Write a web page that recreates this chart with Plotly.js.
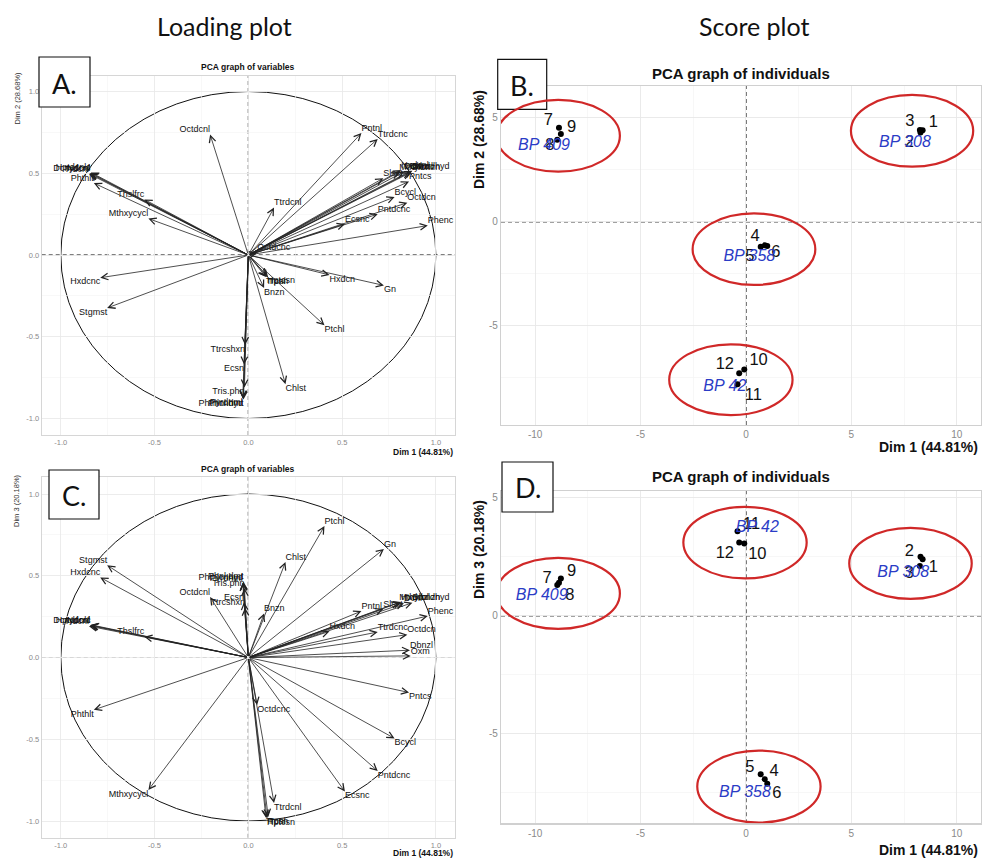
<!DOCTYPE html>
<html><head><meta charset="utf-8">
<script src="https://cdn.plot.ly/plotly-3.0.1.min.js"></script>
<style>html,body{margin:0;padding:0;background:#fff}#chart{width:983px;height:860px}</style>
</head><body><div id="chart"></div>
<script>
// ---------- Loading plot: variable coordinates ----------
const varNames = ['Octdcnl','Pntnl','Ttrdcnc','Slsst','Pntcs','Bcycl','Octdcn','Pntdcnc','Ecsnc','Phenc',
  'Ttrdcnl','Octdcnc','Phthlt','Thslfrc','Mthxycycl','Hxdcnc','Stgmst','Hxdcn','Gn','Ptchl',
  'Chlst','Bnzn','Ttrcshxn','Ecsn','Tris.phn','Dbnzl','Oxm',
  'Bnzldhyd','Hxdcnl','Dcnl','Mthylbnzn',
  'Ndcnl','Hptdcnlc','Trdcnl','Dcnydcnl',
  'Trcsn','Hptcsn','Tpnl',
  'Phthlcnhyd','Phnl.dmt','Pyrdnml'];
const varDim1 = [-0.204,0.603,0.690,0.720,0.857,0.780,0.848,0.690,0.515,0.957,
  0.137,0.047,-0.824,-0.555,-0.533,-0.790,-0.753,0.433,0.723,0.406,
  0.198,0.084,-0.018,-0.023,-0.021,0.862,0.866,
  0.875,0.815,0.830,0.805,
  -0.845,-0.840,-0.850,-0.843,
  0.094,0.100,0.106,
  -0.028,-0.026,-0.030];
const varDim2 = [0.737,0.746,0.710,0.470,0.450,0.355,0.320,0.250,0.190,0.180,
  0.290,0.014,0.440,0.340,0.223,-0.139,-0.324,-0.122,-0.186,-0.430,
  -0.790,-0.202,-0.550,-0.670,-0.810,0.512,0.505,
  0.515,0.520,0.510,0.508,
  0.500,0.505,0.497,0.502,
  -0.135,-0.130,-0.138,
  -0.880,-0.884,-0.877];
const varDim3 = [0.370,0.284,0.156,0.297,-0.214,-0.495,0.140,-0.694,-0.820,0.254,
  -0.890,-0.290,-0.320,0.127,-0.810,0.490,0.565,0.160,0.664,0.804,
  0.584,0.270,0.305,0.340,0.425,0.045,0.010,
  0.335,0.340,0.332,0.338,
  0.196,0.200,0.192,0.198,
  -0.980,-0.985,-0.975,
  0.460,0.464,0.457];

// ---------- Score plot: individuals ----------
const indNames = ['1','2','3','4','5','6','7','8','9','10','11','12'];
const indDim1 = [8.38,8.28,8.25,0.89,0.70,1.01,-8.87,-8.95,-8.78,-0.08,-0.40,-0.32];
const indDim2 = [4.41,4.30,4.42,-1.14,-1.21,-1.17,4.53,3.95,4.23,-7.12,-7.83,-7.31];
const indDim3 = [2.39,2.50,2.10,-6.92,-6.71,-7.12,1.40,1.30,1.58,3.06,3.58,3.10];
const indLabBx = [8.89,7.75,7.78,0.43,0.19,1.42,-9.38,-9.30,-8.27,0.60,0.35,-1.00];
const indLabBy = [4.74,3.81,4.82,-0.72,-1.69,-1.52,4.86,3.65,4.50,-6.72,-8.39,-6.88];
const indLabDx = [8.89,7.75,7.75,1.33,0.19,1.46,-9.43,-8.35,-8.27,0.54,0.27,-1.00];
const indLabDy = [2.03,2.71,1.79,-6.60,-6.46,-7.56,1.55,0.85,1.86,2.57,3.84,2.61];
const groupNames = ['BP 308','BP 358','BP 409','BP 42'];
const groupLabBx = [7.54,0.16,-9.58,-1.00];
const groupLabBy = [3.81,-1.72,3.66,-7.98];
const groupLabDx = [7.46,-0.05,-9.69,0.54];
const groupLabDy = [1.79,-7.52,0.85,3.72];
// hand-drawn red ellipses (bounds in axis units)
const ellBx0 = [4.98,-2.53,-11.83,-3.64], ellBx1 = [10.78,3.29,-5.98,2.21];
const ellBy0 = [2.65,-3.05,2.41,-9.32], ellBy1 = [6.11,0.40,5.87,-5.91];
const ellDx0 = [4.90,-2.31,-11.83,-2.97], ellDx1 = [10.71,3.54,-5.98,2.88];
const ellDy0 = [0.71,-8.76,-0.56,1.58], ellDy1 = [3.72,-5.71,2.45,4.61];
// tick labels
const loadTicks = [-1,-0.5,0,0.5,1], loadTickText = ['-1.0','-0.5','0.0','0.5','1.0'];
const scoreXTicks = [-10,-5,0,5,10], scoreXTickText = ['-10','-5','0','5','10'];
const scoreYTicks = [-5,0,5], scoreYTickText = ['-5','0','5'];

const W = 983, H = 860;
const px = x => x / W, py = y => 1 - y / H;
const FONT = 'Liberation Sans, Arial, sans-serif';

function tpos(x, y) { return (y >= 0 ? 'top ' : 'bottom ') + (x >= 0 ? 'right' : 'left'); }

const traces = [];
traces.push({type:'scatter', mode:'text', x:varDim1, y:varDim2, text:varNames,
  textposition:varDim1.map((v,i)=>tpos(v,varDim2[i])), textfont:{size:9,color:'#111',family:FONT},
  xaxis:'x', yaxis:'y', hoverinfo:'skip', cliponaxis:false});
traces.push({type:'scatter', mode:'text', x:varDim1, y:varDim3, text:varNames,
  textposition:varDim1.map((v,i)=>tpos(v,varDim3[i])), textfont:{size:9,color:'#111',family:FONT},
  xaxis:'x3', yaxis:'y3', hoverinfo:'skip', cliponaxis:false});

function scoreTraces(dimY, labX, labY, gX, gY, xa, ya) {
  traces.push({type:'scatter', mode:'markers', x:indDim1, y:dimY, marker:{size:6,color:'#000'},
    xaxis:xa, yaxis:ya, hoverinfo:'skip'});
  traces.push({type:'scatter', mode:'text', x:labX, y:labY, text:indNames, textposition:'middle center',
    textfont:{size:16.5,color:'#111',family:FONT}, xaxis:xa, yaxis:ya, hoverinfo:'skip'});
  traces.push({type:'scatter', mode:'text', x:gX, y:gY, text:groupNames, textposition:'middle center',
    textfont:{size:16,color:'#2b3cc6',family:FONT,style:'italic'}, xaxis:xa, yaxis:ya, hoverinfo:'skip'});
}
scoreTraces(indDim2, indLabBx, indLabBy, groupLabBx, groupLabBy, 'x2', 'y2');
scoreTraces(indDim3, indLabDx, indLabDy, groupLabDx, groupLabDy, 'x4', 'y4');

const loadAx = {
  tickmode:'array', tickvals:loadTicks, ticktext:loadTickText,
  showgrid:true, gridcolor:'#e8e8e8', gridwidth:0.8,
  minor:{dtick:0.25, tick0:0, showgrid:true, gridcolor:'#f3f3f3', gridwidth:0.6},
  zeroline:false, showline:true, mirror:true, linecolor:'#d6d6d6', linewidth:1,
  ticks:'', tickfont:{size:7.5,color:'#8a8a8a',family:FONT}, fixedrange:true
};
const scoreAx = {
  tickmode:'array', tickvals:scoreXTicks, ticktext:scoreXTickText,
  showgrid:true, gridcolor:'#e8e8e8', gridwidth:0.9,
  minor:{dtick:2.5, tick0:0, showgrid:true, gridcolor:'#f3f3f3', gridwidth:0.7},
  zeroline:false, showline:true, mirror:true, linecolor:'#d0d0d0', linewidth:1.2,
  ticks:'', tickfont:{size:10,color:'#8a8a8a',family:FONT}, fixedrange:true
};

const layout = {
  width:W, height:H, margin:{l:0,r:0,t:0,b:0}, paper_bgcolor:'#fff', plot_bgcolor:'#fff',
  showlegend:false, font:{family:FONT},
  xaxis:Object.assign({}, loadAx, {domain:[px(41.7),px(455)], range:[-1.102,1.102], anchor:'y'}),
  yaxis:Object.assign({}, loadAx, {domain:[py(435),py(76)], range:[-1.101,1.095], anchor:'x'}),
  xaxis3:Object.assign({}, loadAx, {domain:[px(41.7),px(455)], range:[-1.102,1.102], anchor:'y3'}),
  yaxis3:Object.assign({}, loadAx, {domain:[py(837.7),py(476.7)], range:[-1.102,1.106], anchor:'x3'}),
  xaxis2:Object.assign({}, scoreAx, {domain:[px(501),px(981)], range:[-11.62,11.15], anchor:'y2'}),
  yaxis2:Object.assign({}, scoreAx, {domain:[py(425),py(86)], range:[-9.80,6.54], anchor:'x2', tickvals:scoreYTicks, ticktext:scoreYTickText}),
  xaxis4:Object.assign({}, scoreAx, {domain:[px(501),px(981)], range:[-11.62,11.15], anchor:'y4'}),
  yaxis4:Object.assign({}, scoreAx, {domain:[py(823.3),py(491)], range:[-8.79,5.28], anchor:'x4', tickvals:scoreYTicks, ticktext:scoreYTickText}),
  shapes:[], annotations:[]
};

[['x','y'],['x3','y3']].forEach(([xa,ya]) => {
  layout.shapes.push({type:'line', xref:xa, yref:ya+' domain', x0:0, x1:0, y0:0, y1:1, layer:'below',
    line:{color:'#000', width:1.1, dash:'4px,3px'}});
  layout.shapes.push({type:'line', xref:xa+' domain', yref:ya, x0:0, x1:1, y0:0, y1:0, layer:'below',
    line:{color:'#000', width:1.1, dash:'4px,3px'}});
  layout.shapes.push({type:'circle', xref:xa, yref:ya, x0:-1, x1:1, y0:-1, y1:1, layer:'below',
    line:{color:'#111', width:1}});
});
[['x2','y2'],['x4','y4']].forEach(([xa,ya]) => {
  layout.shapes.push({type:'line', xref:xa, yref:ya+' domain', x0:0, x1:0, y0:0, y1:1, layer:'below',
    line:{color:'#444', width:1.5, dash:'4px,3px'}});
  layout.shapes.push({type:'line', xref:xa+' domain', yref:ya, x0:0, x1:1, y0:0, y1:0, layer:'below',
    line:{color:'#444', width:1.5, dash:'4px,3px'}});
});

function arrows(dimY, xa, ya) {
  varDim1.forEach((v,i) => {
    layout.annotations.push({xref:xa, yref:ya, axref:xa, ayref:ya, x:v, y:dimY[i], ax:0, ay:0,
      text:'', showarrow:true, arrowhead:5, arrowsize:1.6, arrowwidth:0.8, arrowcolor:'#222',
      standoff:0, startstandoff:0});
  });
}
arrows(varDim2, 'x', 'y');
arrows(varDim3, 'x3', 'y3');

function box(x0, y0, x1, y1, letter) {
  layout.shapes.push({type:'rect', xref:'paper', yref:'paper', x0:px(x0), x1:px(x1), y0:py(y1), y1:py(y0),
    fillcolor:'#fff', line:{color:'#111', width:1.2}, layer:'above'});
  layout.annotations.push({xref:'paper', yref:'paper', x:px((x0+x1)/2), y:py((y0+y1)/2+1), text:letter,
    showarrow:false, font:{family:'Lato, Open Sans, sans-serif', size:27, color:'#111'},
    xanchor:'center', yanchor:'middle'});
}
box(39, 57, 90, 107, 'A.');
box(49, 470, 99, 519, 'C.');
box(497.7, 59.3, 546.7, 109.3, 'B.');
box(502, 462, 553, 512, 'D.');

function ellipses(x0s, x1s, y0s, y1s, xa, ya) {
  x0s.forEach((v,i) => layout.shapes.push({type:'circle', xref:xa, yref:ya, x0:v, x1:x1s[i], y0:y0s[i], y1:y1s[i],
    layer:'above', line:{color:'#d02828', width:2.2}}));
}
ellipses(ellBx0, ellBx1, ellBy0, ellBy1, 'x2', 'y2');
ellipses(ellDx0, ellDx1, ellDy0, ellDy1, 'x4', 'y4');

function txt(x, y, t, size, opts) {
  layout.annotations.push(Object.assign({xref:'paper', yref:'paper', x:px(x), y:py(y), text:t, showarrow:false,
    xanchor:'center', yanchor:'middle', font:{family:FONT, size:size, color:'#111'}}, opts || {}));
}
txt(224, 26, 'Loading plot', 25, {font:{family:'Lato, Open Sans, sans-serif', size:25, color:'#111'}});
txt(754, 26, 'Score plot', 25, {font:{family:'Lato, Open Sans, sans-serif', size:25, color:'#111'}});
txt(248, 67, '<b>PCA graph of variables</b>', 8.5);
txt(248, 469, '<b>PCA graph of variables</b>', 8.5);
txt(740.5, 73, '<b>PCA graph of individuals</b>', 15);
txt(740.5, 476, '<b>PCA graph of individuals</b>', 15);
txt(17, 98.5, 'Dim 2 (28.68%)', 7.5, {textangle:-90, font:{family:FONT, size:7.5, color:'#333'}});
txt(17, 501, 'Dim 3 (20.18%)', 7.5, {textangle:-90, font:{family:FONT, size:7.5, color:'#333'}});
txt(455, 452, '<b>Dim 1 (44.81%)</b>', 8.5, {xanchor:'right'});
txt(455, 853, '<b>Dim 1 (44.81%)</b>', 8.5, {xanchor:'right'});
txt(479, 140, '<b>Dim 2 (28.68%)</b>', 14, {textangle:-90});
txt(479, 550, '<b>Dim 3 (20.18%)</b>', 14, {textangle:-90});
txt(980, 447, '<b>Dim 1 (44.81%)</b>', 14, {xanchor:'right'});
txt(980, 850, '<b>Dim 1 (44.81%)</b>', 14, {xanchor:'right'});

Plotly.newPlot('chart', traces, layout, {staticPlot:true});
</script></body></html>
